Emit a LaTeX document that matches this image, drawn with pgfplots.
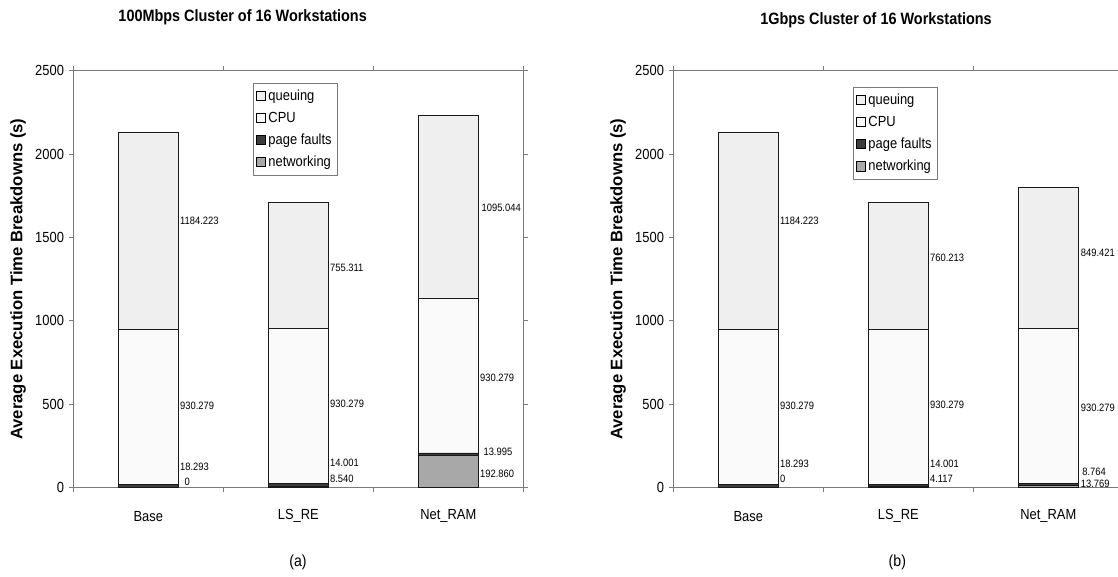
\documentclass[border=0pt]{standalone}
\usepackage{fontspec}
\setmainfont{Liberation Sans}[FakeStretch=0.88]
\newfontfamily\ylabfont{Liberation Sans}
\usepackage{pgfplots}
\pgfplotsset{compat=1.18}
\definecolor{cq}{HTML}{EFEFEF}
\definecolor{ccpu}{HTML}{FAFAFA}
\definecolor{cpf}{HTML}{3C3C3C}
\definecolor{cnet}{HTML}{A8A8A8}
\definecolor{frame}{HTML}{7A7A7A}
\tikzset{vlab/.style={anchor=west, font=\fontsize{8}{9}\selectfont, inner sep=0pt}}
\pgfplotsset{
  panel/.style={
    scale only axis, width=337.5pt, height=312.5pt, anchor=south west,
    ybar stacked, bar width=0.4,
    xmin=-0.5, xmax=2.5, ymin=0, ymax=2500,
    ytick={0,500,1000,1500,2000,2500},
    xtick={-0.5,0.5,1.5,2.5}, x tick label as interval,
    xticklabels={Base,LS\_RE,Net\_RAM},
    tick align=outside, major tick length=3.5pt,
    axis line style={draw=frame, line width=0.7pt},
    tick style={draw=frame, line width=0.6pt},
    /pgf/number format/assume math mode=true,
    /pgf/number format/1000 sep={},
    ticklabel style={font=\fontsize{11}{13}\selectfont},
    xticklabel style={anchor=center, yshift=-18pt},
    ylabel={Average Execution Time Breakdowns (s)},
    ylabel style={font=\ylabfont\bfseries\fontsize{12.5}{14}\selectfont, at={(axis description cs:-0.123,0.5)}, anchor=center},
    reverse legend,
    legend cell align=left,
    legend style={draw=frame, fill=white, font=\fontsize{11}{13}\selectfont, row sep=3.2pt, inner xsep=2pt, inner ysep=3pt},
    legend image code/.code={\draw[#1, draw=black, line width=0.5pt] (0,-0.32em) rectangle (0.7em,0.38em);},
    every axis plot/.append style={draw=black!90, line width=0.6pt},
  },
}
\begin{document}
\begin{tikzpicture}
\useasboundingbox (0,0) rectangle (838.5pt,432pt);
% titles and captions
\node[anchor=base, font=\bfseries\fontsize{12.3}{14}\selectfont] at (182pt,415.5pt) {100Mbps Cluster of 16 Workstations};
\node[anchor=base, font=\bfseries\fontsize{12.3}{14}\selectfont] at (657pt,413.25pt) {1Gbps Cluster of 16 Workstations};
\node[font=\fontsize{12}{14}\selectfont] at (223.5pt,10.5pt) {(a)};
\node[font=\fontsize{12}{14}\selectfont] at (673pt,10.5pt) {(b)};

\begin{axis}[panel, at={(55pt,66.4pt)},
  legend style={at={(0.399,0.971)}, anchor=north west}]
\addplot[fill=cnet] coordinates {(0,0) (1,8.540) (2,192.860)};
\addplot[fill=cpf] coordinates {(0,18.293) (1,14.001) (2,13.995)};
\addplot[fill=ccpu] coordinates {(0,930.279) (1,930.279) (2,930.279)};
\addplot[fill=cq] coordinates {(0,1184.223) (1,755.311) (2,1095.044)};
\legend{networking,page faults,CPU,queuing}
\node[vlab] at (axis cs:0.21,1600) {1184.223};
\node[vlab] at (axis cs:0.21,489) {930.279};
\node[vlab] at (axis cs:0.21,123) {18.293};
\node[vlab] at (axis cs:0.24,33) {0};
\node[vlab] at (axis cs:1.21,1317) {755.311};
\node[vlab] at (axis cs:1.21,499) {930.279};
\node[vlab] at (axis cs:1.21,145) {14.001};
\node[vlab] at (axis cs:1.21,51) {8.540};
\node[vlab] at (axis cs:2.22,1677) {1095.044};
\node[vlab] at (axis cs:2.21,660) {930.279};
\node[vlab] at (axis cs:2.233,215) {13.995};
\node[vlab] at (axis cs:2.21,79) {192.860};
\end{axis}

\begin{axis}[panel, at={(505pt,66.4pt)},
  legend style={at={(0.399,0.961)}, anchor=north west}]
\addplot[fill=cnet] coordinates {(0,0) (1,4.117) (2,13.769)};
\addplot[fill=cpf] coordinates {(0,18.293) (1,14.001) (2,8.764)};
\addplot[fill=ccpu] coordinates {(0,930.279) (1,930.279) (2,930.279)};
\addplot[fill=cq] coordinates {(0,1184.223) (1,760.213) (2,849.421)};
\legend{networking,page faults,CPU,queuing}
\node[vlab] at (axis cs:0.21,1600) {1184.223};
\node[vlab] at (axis cs:0.21,489) {930.279};
\node[vlab] at (axis cs:0.21,141) {18.293};
\node[vlab] at (axis cs:0.21,51) {0};
\node[vlab] at (axis cs:1.21,1377) {760.213};
\node[vlab] at (axis cs:1.21,495) {930.279};
\node[vlab] at (axis cs:1.21,144) {14.001};
\node[vlab] at (axis cs:1.21,54) {4.117};
\node[vlab] at (axis cs:2.215,1407) {849.421};
\node[vlab] at (axis cs:2.215,477) {930.279};
\node[vlab] at (axis cs:2.225,93) {8.764};
\node[vlab] at (axis cs:2.215,21) {13.769};
\end{axis}
\end{tikzpicture}
\end{document}
